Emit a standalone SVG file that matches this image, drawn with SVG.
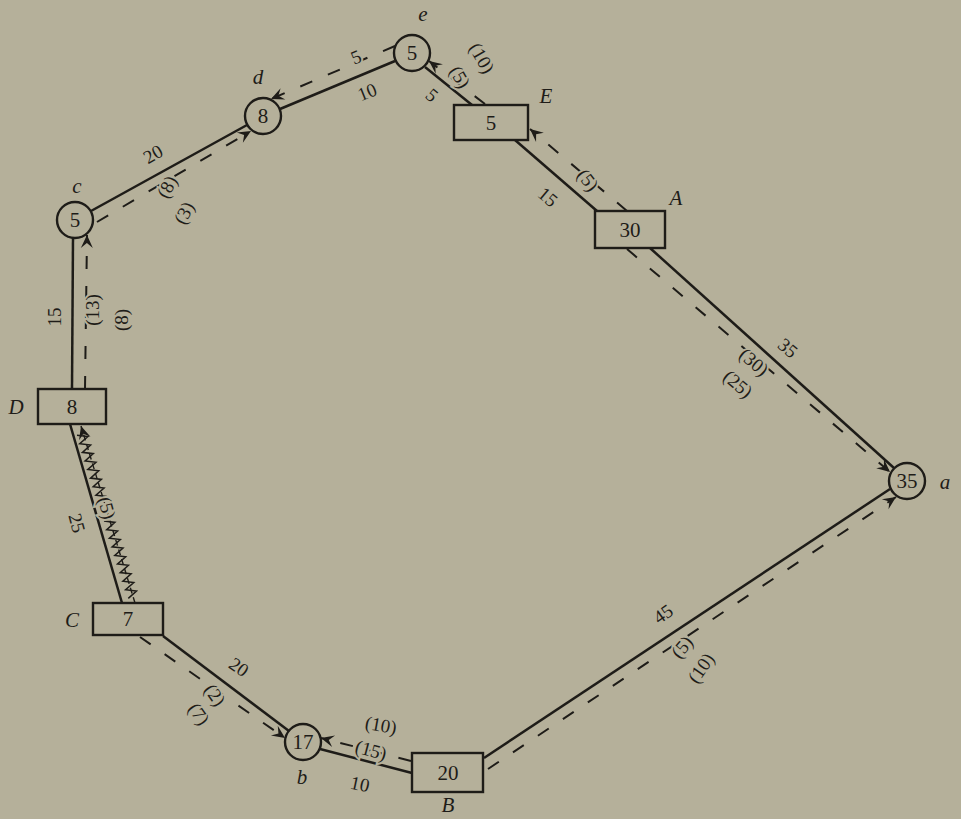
<svg xmlns="http://www.w3.org/2000/svg" width="961" height="819" viewBox="0 0 961 819">
<defs>
<marker id="arr" viewBox="-14 -7 15 14" markerWidth="15" markerHeight="14" refX="0" refY="0" orient="auto" markerUnits="userSpaceOnUse">
<path d="M0,0 L-13,-6 L-8,0 L-13,6 Z" fill="#1e1c18"/>
</marker>
<style>
.bg{fill:#b5b09a}
.node{fill:none;stroke:#1e1c18;stroke-width:2.4}
.solid{fill:none;stroke:#1e1c18;stroke-width:2.5}
.dash{fill:none;stroke:#1e1c18;stroke-width:2;stroke-dasharray:13 17}
.zig{fill:none;stroke:#1e1c18;stroke-width:1.5}
text{font-family:"Liberation Serif","Times New Roman",serif;fill:#1e1c18;text-anchor:middle;dominant-baseline:central}
.num{font-size:21px}
.lbl{font-size:19px;paint-order:stroke;stroke:#b5b09a;stroke-width:4px}
.name{font-size:21px;font-style:italic}
</style>
</defs>
<rect class="bg" x="0" y="0" width="961" height="819"/>
<g id="connectors">
<!-- e - d -->
<line class="solid" x1="395" y1="61" x2="280" y2="109"/>
<line class="dash" x1="395" y1="46" x2="271" y2="99" marker-end="url(#arr)"/>
<!-- e - E -->
<line class="solid" x1="425" y1="67" x2="472" y2="105"/>
<line class="dash" x1="485" y1="104" x2="429" y2="61" marker-end="url(#arr)"/>
<!-- E - A -->
<line class="solid" x1="515" y1="140" x2="597" y2="211"/>
<line class="dash" x1="627" y1="211" x2="530" y2="129" marker-end="url(#arr)"/>
<!-- A - a -->
<line class="solid" x1="650" y1="248" x2="894" y2="468"/>
<line class="dash" x1="627" y1="249" x2="890" y2="472" marker-end="url(#arr)"/>
<!-- B - a -->
<line class="solid" x1="484" y1="758" x2="890" y2="489"/>
<line class="dash" x1="488" y1="769" x2="896" y2="497" marker-end="url(#arr)"/>
<!-- B - b -->
<line class="solid" x1="412" y1="773" x2="320" y2="749"/>
<line class="dash" x1="411" y1="761" x2="321" y2="738" marker-end="url(#arr)"/>
<!-- C - b -->
<line class="solid" x1="163" y1="636" x2="289" y2="731"/>
<line class="dash" x1="140" y1="637" x2="285" y2="738" marker-end="url(#arr)"/>
<!-- D - C -->
<line class="solid" x1="70" y1="424" x2="122" y2="603"/>
<line class="dash" x1="135" y1="603" x2="81" y2="426" style="stroke-dasharray:6 4;stroke-width:1.4" marker-end="url(#arr)"/>
<path class="zig" d="M77,435.2 l10.89,1.29 -8.19,7.29 10.89,1.29 -8.19,7.29 10.89,1.29 -8.19,7.29 10.89,1.29 -8.19,7.29 10.89,1.29 -8.19,7.29 10.89,1.29 -8.19,7.29 10.89,1.29 -8.19,7.29 10.89,1.29"/>
<path class="zig" d="M104,521.1 l10.89,1.29 -8.19,7.29 10.89,1.29 -8.19,7.29 10.89,1.29 -8.19,7.29 10.89,1.29 -8.19,7.29 10.89,1.29 -8.19,7.29 10.89,1.29 -8.19,7.29 10.89,1.29 -8.19,7.29 10.89,1.29 -8.19,7.29 10.89,1.29 -8.19,7.29"/>
<!-- D - c -->
<line class="solid" x1="72" y1="389" x2="73" y2="238"/>
<line class="dash" x1="85" y1="389" x2="87" y2="235" marker-end="url(#arr)"/>
<!-- c - d -->
<line class="solid" x1="91" y1="211" x2="247" y2="125"/>
<line class="dash" x1="97" y1="222" x2="251" y2="131" marker-end="url(#arr)"/>
<!-- labels -->
<text class="lbl" transform="translate(356,57) rotate(-22)">5</text>
<text class="lbl" transform="translate(367,92) rotate(-22)">10</text>
<text class="lbl" transform="translate(432,95) rotate(40)">5</text>
<text class="lbl" transform="translate(460,77) rotate(60)">(5)</text>
<text class="lbl" transform="translate(482,58) rotate(60)">(10)</text>
<text class="lbl" transform="translate(548,197) rotate(40)">15</text>
<text class="lbl" transform="translate(588,180) rotate(52)">(5)</text>
<text class="lbl" transform="translate(788,348) rotate(40)">35</text>
<text class="lbl" transform="translate(754,362) rotate(40)">(30)</text>
<text class="lbl" transform="translate(738,384) rotate(40)">(25)</text>
<text class="lbl" transform="translate(663,614) rotate(-35)">45</text>
<text class="lbl" transform="translate(682,647) rotate(-50)">(5)</text>
<text class="lbl" transform="translate(701,668) rotate(-55)">(10)</text>
<text class="lbl" transform="translate(371,750) rotate(15)">(15)</text>
<text class="lbl" transform="translate(381,725) rotate(10)">(10)</text>
<text class="lbl" transform="translate(360,784) rotate(12)">10</text>
<text class="lbl" transform="translate(239,667) rotate(35)">20</text>
<text class="lbl" transform="translate(215,695) rotate(55)">(2)</text>
<text class="lbl" transform="translate(199,714) rotate(55)">(7)</text>
<text class="lbl" transform="translate(107,508) rotate(75)">(5)</text>
<text class="lbl" transform="translate(77,523) rotate(75)">25</text>
<text class="lbl" transform="translate(54,317) rotate(-90)">15</text>
<text class="lbl" transform="translate(92,310) rotate(-90)">(13)</text>
<text class="lbl" transform="translate(121,320) rotate(-90)">(8)</text>
<text class="lbl" transform="translate(153,154) rotate(-30)">20</text>
<text class="lbl" transform="translate(167,187) rotate(-62)">(8)</text>
<text class="lbl" transform="translate(184,213) rotate(-62)">(3)</text>
</g>
<g id="node-e"><circle class="node" cx="412" cy="53" r="18"/><text class="num" x="412" y="53">5</text><text class="name" x="423" y="14">e</text></g>
<g id="node-d"><circle class="node" cx="263" cy="116" r="18"/><text class="num" x="263" y="116">8</text><text class="name" x="258" y="77">d</text></g>
<g id="node-c"><circle class="node" cx="75" cy="220" r="18"/><text class="num" x="75" y="220">5</text><text class="name" x="77" y="186">c</text></g>
<g id="node-a"><circle class="node" cx="907" cy="481" r="18"/><text class="num" x="907" y="481">35</text><text class="name" x="945" y="482">a</text></g>
<g id="node-b"><circle class="node" cx="303" cy="742" r="18"/><text class="num" x="303" y="742">17</text><text class="name" x="302" y="777">b</text></g>
<g id="node-E"><rect class="node" x="454" y="105" width="74" height="35"/><text class="num" x="491" y="123">5</text><text class="name" x="546" y="96">E</text></g>
<g id="node-A"><rect class="node" x="595" y="211" width="70" height="37"/><text class="num" x="630" y="230">30</text><text class="name" x="676" y="198">A</text></g>
<g id="node-D"><rect class="node" x="38" y="389" width="68" height="35"/><text class="num" x="72" y="407">8</text><text class="name" x="16" y="407">D</text></g>
<g id="node-C"><rect class="node" x="93" y="603" width="70" height="32"/><text class="num" x="128" y="619">7</text><text class="name" x="72" y="620">C</text></g>
<g id="node-B"><rect class="node" x="412" y="753" width="71" height="39"/><text class="num" x="448" y="773">20</text><text class="name" x="448" y="805">B</text></g>
</svg>
